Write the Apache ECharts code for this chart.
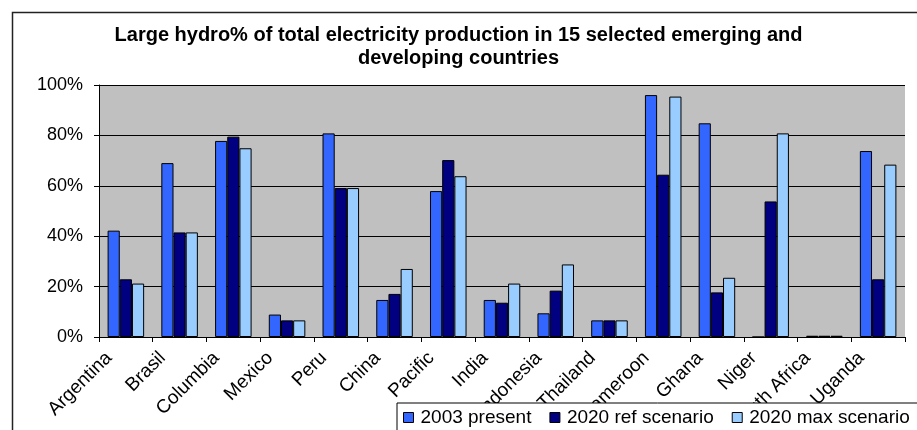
<!DOCTYPE html>
<html>
<head>
<meta charset="utf-8">
<script src="https://cdn.jsdelivr.net/npm/echarts@6/dist/echarts.min.js"></script>
<style>
html,body{margin:0;padding:0;background:#fff;}
#c{width:917px;height:430px;}
</style>
</head>
<body>
<div id="c"></div>
<script>
const categories = ['Argentina','Brasil','Columbia','Mexico','Peru','China','Pacific','India','Indonesia','Thailand','Cameroon','Ghana','Niger','South Africa','Uganda'];
const present2003 = [42.2, 69.0, 77.8, 8.9, 80.8, 14.7, 57.9, 14.7, 9.4, 6.6, 96.0, 84.8, 0, 0.5, 73.8];
const ref2020 = [22.9, 41.5, 79.5, 6.6, 59.1, 17.1, 70.2, 13.6, 18.4, 6.6, 64.4, 17.7, 53.8, 0.5, 22.9];
const max2020 = [21.2, 41.5, 74.9, 6.6, 59.1, 27.0, 63.8, 21.2, 28.8, 6.6, 95.4, 23.5, 80.8, 0.5, 68.4];
const seriesNames = ['2003 present','2020 ref scenario','2020 max scenario'];
const yTicks = [0, 20, 40, 60, 80, 100];
const titleText = 'Large hydro% of total electricity production in 15 selected emerging and\ndeveloping countries';

const FONT = '"Liberation Sans", Arial, sans-serif';
const colors = ['#3366FF', '#000080', '#99CCFF'];
const chart = echarts.init(document.getElementById('c'), null, {renderer: 'canvas'});
const mk = (name, data, color) => ({
  name, type: 'bar', data,
  barGap: '0%', barCategoryGap: '32%',
  itemStyle: {color, borderColor: '#000', borderWidth: 1},
  emphasis: {disabled: true}
});
chart.setOption({
  animation: false,
  backgroundColor: '#fff',
  title: {
    text: titleText,
    left: 'center', top: 19,
    textStyle: {fontFamily: FONT, fontWeight: 'bold', fontSize: 20, color: '#000', lineHeight: 23}
  },
  graphic: [{
    type: 'rect', left: 10, top: 10, z: -1,
    shape: {width: 930, height: 440},
    style: {fill: 'none', stroke: '#222', lineWidth: 1.5}
  }],
  grid: {left: 99, right: 12, top: 85, bottom: 93, show: true, backgroundColor: '#C0C0C0', borderWidth: 0, outerBoundsMode: 'none', containLabel: false},
  legend: {
    data: seriesNames,
    left: 397, top: 403, width: 600,
    orient: 'horizontal',
    backgroundColor: '#fff', borderColor: '#000', borderWidth: 1,
    padding: [5, 10, 5, 6],
    itemWidth: 10, itemHeight: 10, itemGap: 18,
    icon: 'rect',
    itemStyle: {borderColor: '#000', borderWidth: 1},
    textStyle: {fontFamily: FONT, fontSize: 19, color: '#000', padding: [0, 0, 0, 2]},
    z: 10
  },
  xAxis: {
    type: 'category', data: categories,
    axisLine: {lineStyle: {color: '#000', width: 1}},
    axisTick: {show: true, alignWithLabel: false, length: 5, lineStyle: {color: '#000'}},
    axisLabel: {rotate: 45, interval: 0, margin: 1, fontFamily: FONT, fontSize: 19, color: '#000', padding: [0, 24, 0, 0]}
  },
  yAxis: {
    type: 'value', min: yTicks[0], max: yTicks[yTicks.length - 1], interval: 20,
    axisLine: {show: true, lineStyle: {color: '#000'}},
    axisTick: {show: true, length: 5, lineStyle: {color: '#000'}},
    splitLine: {lineStyle: {color: '#000', width: 1}},
    axisLabel: {formatter: '{value}%', fontFamily: FONT, fontSize: 18, color: '#000', margin: 16}
  },
  series: [mk(seriesNames[0], present2003, colors[0]), mk(seriesNames[1], ref2020, colors[1]), mk(seriesNames[2], max2020, colors[2])]
});
</script>
</body>
</html>
